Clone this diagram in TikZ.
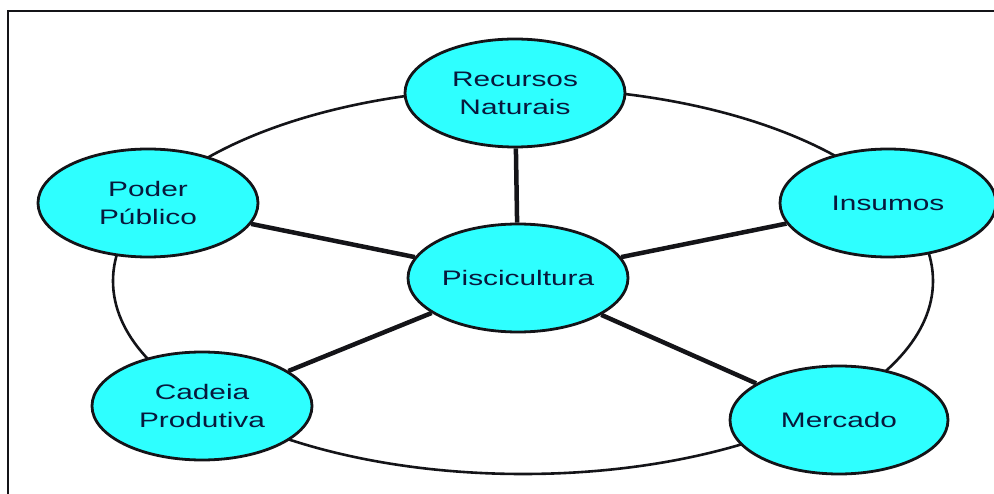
\documentclass[tikz,border=0pt]{standalone}
\usepackage{fontspec}
\setmainfont{Liberation Sans}
\newfontfamily\widesans[FakeStretch=1.42]{Liberation Sans}
\usetikzlibrary{shapes.geometric}
\definecolor{aqua}{RGB}{46,255,255}
\definecolor{inkline}{RGB}{20,20,24}
\definecolor{inktext}{RGB}{8,24,60}
\tikzset{
  bubble/.style={ellipse, draw=inkline, line width=2.8pt, fill=aqua,
    minimum width=#1, minimum height=108pt, inner sep=0pt, align=center,
    font=\widesans\fontsize{21pt}{28pt}\selectfont, text=inktext},
  bubble/.default=220pt,
  spoke/.style={line width=4.5pt, inkline},
  ring/.style={line width=2.6pt, inkline},
  frame/.style={line width=2pt, inkline}
}
\begin{document}
\begin{tikzpicture}[x=1pt,y=-1pt]
\useasboundingbox (0,0) rectangle (994,494);
\draw[frame] (8,11) rectangle (1010,510);
\node[draw, ring, ellipse, minimum width=820pt, minimum height=386pt, inner sep=0pt] (outer) at (523,281) {};
\node[bubble] (rec) at (515,93) {Recursos\\Naturais};
\node[bubble] (pisc) at (518,278) {Piscicultura};
\node[bubble=216pt] (ins) at (888,203) {Insumos};
\node[bubble] (poder) at (148,203) {Poder\\Público};
\node[bubble] (cad) at (202,406) {Cadeia\\Produtiva};
\node[bubble=218pt] (merc) at (839,420) {Mercado};
\draw[spoke] (pisc) -- (rec);
\draw[spoke] (pisc) -- (ins);
\draw[spoke] (pisc) -- (poder);
\draw[spoke] (pisc) -- (cad);
\draw[spoke] (pisc) -- (merc);
\end{tikzpicture}
\end{document}
